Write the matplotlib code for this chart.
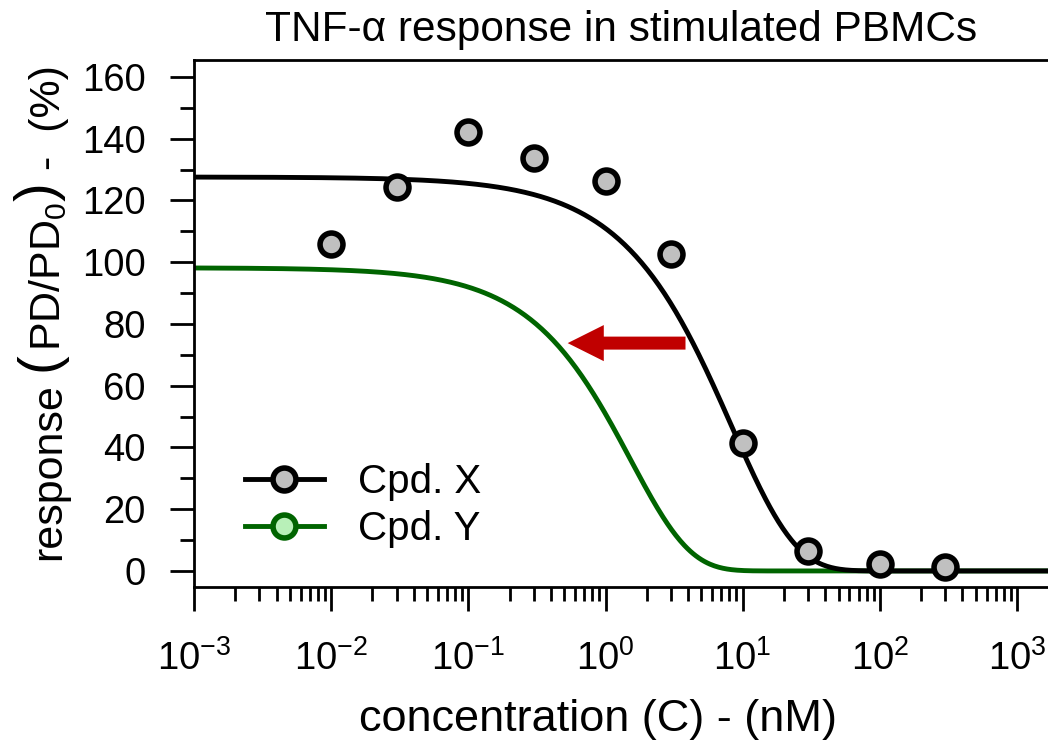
import numpy as np
import matplotlib
matplotlib.use("Agg")
import matplotlib.pyplot as plt
from matplotlib.lines import Line2D
from matplotlib.ticker import LogLocator, LogFormatterSciNotation, MultipleLocator

plt.rcParams['font.family'] = ['Liberation Sans', 'DejaVu Sans']
plt.rcParams['mathtext.fontset'] = 'custom'
plt.rcParams['mathtext.rm'] = 'Liberation Sans'
plt.rcParams['mathtext.it'] = 'Liberation Sans:italic'
plt.rcParams['mathtext.bf'] = 'Liberation Sans:bold'

# ---- data ----
conc_x = [0.01, 0.03, 0.1, 0.3, 1, 3, 10, 30, 100, 300]
resp_x = [105.8, 124.4, 142.2, 133.6, 126.3, 102.6, 41.3, 6.6, 2.3, 1.2]

# fitted model parameters (top, characteristic conc, shape)
fit_x = dict(top=127.6, c50=8.3, shape=0.93)
fit_y = dict(top=98.2, c50=1.52, shape=1.0)

labels = ["Cpd. X", "Cpd. Y"]
title = "TNF-\u03b1 response in stimulated PBMCs"
xlabel = "concentration (C) - (nM)"
ylabel_parts = ["response", "(", "PD/PD$_0$", ")", "-  (%)"]
yticks = [0, 20, 40, 60, 80, 100, 120, 140, 160]

def model(c, top, c50, shape):
    return top * np.exp(-(c / c50) ** shape)

W, H = 1048, 747
fig = plt.figure(figsize=(W / 100, H / 100), dpi=100)
left, right, top_, bottom = 194, 1048, 60, 587
ax = fig.add_axes([left / W, 1 - bottom / H, (right - left) / W, (bottom - top_) / H])

xmax = 10 ** (3 + 31 / 137.2)
ax.set_xscale('log')
ax.set_xlim(1e-3, xmax)
ax.set_ylim(-5.2, 165.5)

cc = np.logspace(-3, np.log10(xmax), 600)
black = 'black'
green = '#006400'
LW = 3.5
ax.plot(cc, model(cc, **fit_x), color=black, lw=LW, zorder=3, solid_capstyle='butt')
ax.plot(cc, model(cc, **fit_y), color=green, lw=LW, zorder=2, solid_capstyle='butt')
ax.plot(conc_x, resp_x, 'o', ms=16.5, mew=4, mfc='#c0c0c0', mec='black', zorder=4, clip_on=False)

# arrow
ax.annotate('', xy=(0.53, 73.8), xytext=(3.83, 73.8),
            arrowprops=dict(arrowstyle='simple,head_length=1.0,head_width=1.0,tail_width=0.36',
                            mutation_scale=26, color='#c00000', lw=0, shrinkA=0, shrinkB=0))

# spines / ticks
SW = 2.0
for s in ['left', 'bottom', 'top']:
    ax.spines[s].set_linewidth(SW)
ax.spines['right'].set_visible(False)
ax.set_yticks(yticks)
ax.yaxis.set_minor_locator(MultipleLocator(10))
ax.xaxis.set_major_locator(LogLocator(base=10, numticks=20))
ax.xaxis.set_minor_locator(LogLocator(base=10, subs=np.arange(2, 10), numticks=20))
ax.xaxis.set_major_formatter(LogFormatterSciNotation())
ax.tick_params(which='major', direction='out', length=17, width=SW, labelsize=27.5,
               top=False, right=False)
ax.tick_params(which='minor', direction='out', length=10, width=SW, top=False, right=False)
ax.tick_params(axis='x', which='major', pad=21)
ax.tick_params(axis='y', which='major', pad=18)

ax.set_title(title, fontsize=30.5, pad=14)
ax.set_xlabel(xlabel, fontsize=32.5, va='baseline')
ax.xaxis.set_label_coords((598 - left) / (right - left), -(731 - bottom) / (bottom - top_))

handles = [
    Line2D([], [], color=black, lw=LW, marker='o', ms=16.5, mew=4, mfc='#c0c0c0', mec='black'),
    Line2D([], [], color=green, lw=LW, marker='o', ms=16.5, mew=4, mfc='#b8f0b8', mec=green),
]
ax.legend(handles, labels, loc='upper left',
          bbox_to_anchor=((245 - left) / (right - left), (bottom - 463) / (bottom - top_)),
          frameon=False, fontsize=29, handlelength=1.95, handletextpad=0.85, borderpad=0,
          borderaxespad=0, labelspacing=0.22)

# y label built from pieces (larger parentheses), rotated 90 deg
fig.canvas.draw()
renderer = fig.canvas.get_renderer()
fs = 31
paren_fs = fs * 1.3
base_x = 60          # baseline position (pixels from left)
paren_shift = 6      # paren baseline raised (pixels, toward left)
gap = fs * 0.28 * 100 / 72
specs = []
for i, p in enumerate(ylabel_parts):
    big = p in ("(", ")")
    specs.append((p, paren_fs if big else fs, paren_shift if big else 0))
texts = []
for p, size, sh in specs:
    t = fig.text(0, 0, p, fontsize=size, rotation=90, rotation_mode='anchor',
                 ha='left', va='baseline', transform=None)
    texts.append(t)
lens = [t.get_window_extent(renderer).height for t in texts]
gaps = [gap, 1, 1, gap]
total = sum(lens) + sum(gaps)
y = (555 + 70) / 2 - total / 2
y = H - ((555 + 70) / 2) - total / 2
for i, t in enumerate(texts):
    sh = specs[i][2]
    t.set_position((base_x - sh, y))
    y += lens[i] + (gaps[i] if i < len(gaps) else 0)

fig.savefig('out.png', dpi=100)
